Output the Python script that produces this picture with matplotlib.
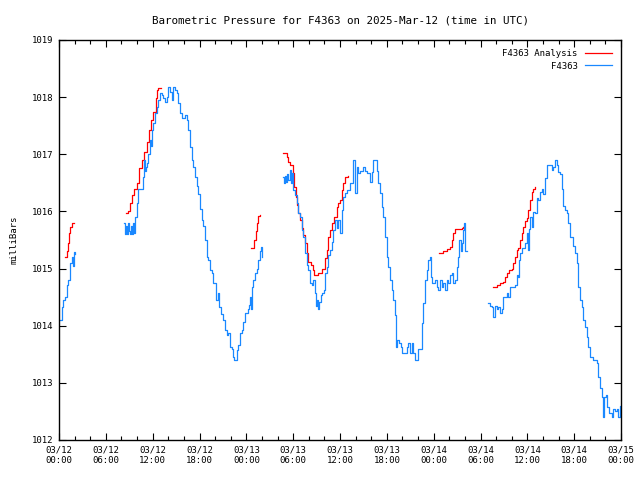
import numpy as np
import matplotlib
matplotlib.use('Agg')
import matplotlib.pyplot as plt
from matplotlib.ticker import MultipleLocator

# hours since 03/12 00:00 UTC, pressure in milliBars
# F4363 observations (gaps between segments)
obs_h1 = [0.13, 0.38, 0.51, 0.77, 1.02, 1.15, 1.41, 1.67, 1.79, 1.92, 2.05]
obs_p1 = [1014.1, 1014.33, 1014.45, 1014.5, 1014.71, 1014.8, 1015.1, 1015.2, 1015.05, 1015.29, 1015.25]

obs_h2 = [8.33, 8.46, 8.58, 8.71, 8.84, 8.97, 9.10, 9.22, 9.35, 9.48, 9.61, 9.74, 9.99, 10.12,
          10.38, 10.63, 10.76, 10.89, 11.02, 11.15, 11.27, 11.40, 11.66, 11.79, 11.91, 12.04,
          12.30, 12.55, 12.68, 12.94, 13.19, 13.32, 13.58, 13.84, 13.96, 14.22, 14.48, 14.60,
          14.86, 15.12, 15.24, 15.50, 15.76, 15.89, 16.14, 16.40, 16.53, 16.78, 17.04, 17.17,
          17.42, 17.68, 17.81, 18.06, 18.32, 18.45, 18.70, 18.96, 19.09, 19.34, 19.60, 19.73,
          20.11, 20.37, 20.50, 20.75, 21.01, 21.27, 21.52, 21.65, 21.91, 22.16, 22.29, 22.42,
          22.80, 22.93, 23.19, 23.44, 23.57, 23.83, 24.21, 24.34, 24.47, 24.60, 24.72, 24.85,
          25.11, 25.37, 25.50, 25.75, 25.88, 26.01]
obs_p2 = [1015.8, 1015.6, 1015.75, 1015.6, 1015.8, 1015.65, 1015.6, 1015.75, 1015.6, 1015.8,
          1015.62, 1015.9, 1016.15, 1016.4, 1016.4, 1016.4, 1016.6, 1016.9, 1016.7, 1016.78,
          1016.85, 1017.0, 1017.25, 1017.15, 1017.42, 1017.55, 1017.72, 1017.83, 1017.95,
          1018.07, 1018.04, 1017.98, 1017.92, 1018.0, 1018.18, 1018.09, 1017.95, 1018.18,
          1018.12, 1018.07, 1017.9, 1017.72, 1017.63, 1017.63, 1017.68, 1017.6, 1017.42,
          1017.13, 1016.9, 1016.78, 1016.6, 1016.45, 1016.3, 1016.05, 1015.85, 1015.75, 1015.5,
          1015.2, 1015.15, 1014.97, 1014.92, 1014.75, 1014.45, 1014.57, 1014.33, 1014.2, 1014.1,
          1013.92, 1013.84, 1013.87, 1013.63, 1013.6, 1013.45, 1013.4, 1013.57, 1013.66,
          1013.87, 1013.92, 1014.06, 1014.22, 1014.3, 1014.36, 1014.5, 1014.3, 1014.68, 1014.8,
          1014.92, 1015.0, 1015.15, 1015.3, 1015.38, 1015.2]

obs_h3 = [28.70, 28.82, 28.95, 29.08, 29.21, 29.34, 29.59, 29.72, 29.85, 29.98, 30.23, 30.49,
          30.62, 30.87, 31.13, 31.26, 31.51, 31.77, 31.90, 32.16, 32.41, 32.54, 32.80, 32.92,
          33.05, 33.18, 33.31, 33.56, 33.69, 33.95, 34.08, 34.33, 34.46, 34.72, 34.97, 35.10,
          35.36, 35.61, 35.74, 36.00, 36.25, 36.38, 36.64, 36.90, 37.28, 37.67, 37.92, 38.18,
          38.31, 38.56, 38.95, 39.20, 39.46, 39.84, 40.10, 40.22, 40.48, 40.74, 40.87, 41.12,
          41.38, 41.51, 41.76, 42.02, 42.15, 42.40, 42.66, 42.79, 43.05, 43.17, 43.30, 43.56,
          43.81, 43.94, 44.20, 44.58, 44.71, 44.97, 45.22, 45.35, 45.61, 45.86, 45.99, 46.25,
          46.50, 46.63, 46.89, 47.14, 47.27, 47.53, 47.66, 47.78, 48.04, 48.17, 48.42, 48.55,
          48.81, 49.06, 49.19, 49.45, 49.71, 49.83, 50.09, 50.35, 50.47, 50.73, 50.99, 51.11,
          51.24, 51.50, 51.63, 51.76, 51.88, 52.01, 52.27]
obs_p3 = [1016.6, 1016.5, 1016.62, 1016.52, 1016.65, 1016.55, 1016.72, 1016.5, 1016.67,
          1016.38, 1016.29, 1016.15, 1015.97, 1015.9, 1015.67, 1015.55, 1015.27, 1015.06,
          1014.97, 1014.75, 1014.71, 1014.8, 1014.57, 1014.35, 1014.45, 1014.3, 1014.42,
          1014.54, 1014.57, 1014.62, 1014.92, 1015.03, 1015.24, 1015.33, 1015.46, 1015.67,
          1015.85, 1015.71, 1015.85, 1015.62, 1016.02, 1016.25, 1016.32, 1016.38, 1016.5,
          1016.9, 1016.32, 1016.78, 1016.67, 1016.7, 1016.78, 1016.7, 1016.67, 1016.51,
          1016.69, 1016.9, 1016.9, 1016.7, 1016.5, 1016.32, 1016.08, 1015.9, 1015.55, 1015.2,
          1015.03, 1014.8, 1014.62, 1014.45, 1014.19, 1013.63, 1013.75, 1013.7, 1013.63,
          1013.52, 1013.52, 1013.63, 1013.7, 1013.52, 1013.7, 1013.52, 1013.4, 1013.4, 1013.6,
          1013.6, 1014.05, 1014.4, 1014.8, 1014.97, 1015.15, 1015.2, 1014.85, 1014.75, 1014.75,
          1014.8, 1014.68, 1014.62, 1014.8, 1014.68, 1014.75, 1014.62, 1014.8, 1014.75, 1014.89,
          1014.92, 1014.75, 1014.8, 1015.03, 1015.2, 1015.5, 1015.3, 1015.45, 1015.67, 1015.8,
          1015.3, 1015.3]

obs_h4 = [54.96, 55.21, 55.47, 55.60, 55.85, 56.11, 56.24, 56.50, 56.75, 56.88, 57.39, 57.52,
          57.78, 58.42, 58.68, 58.80, 58.93, 59.06, 59.32, 59.44, 59.70, 59.95, 60.08, 60.21,
          60.34, 60.60, 60.72, 60.98, 61.24, 61.36, 61.62, 61.88, 62.00, 62.26, 62.52, 62.90,
          63.16, 63.29, 63.54, 63.80, 63.93, 64.18, 64.44, 64.57, 64.82, 65.08, 65.21, 65.47,
          65.72, 65.85, 66.11, 66.36, 66.49, 66.75, 67.01, 67.13, 67.39, 67.64, 67.77, 68.03,
          68.41, 68.92, 69.05, 69.31, 69.56, 69.69, 69.82, 70.07, 70.20, 70.46, 70.84, 70.97,
          71.23, 71.48, 71.61, 71.87, 72.0]
obs_p4 = [1014.4, 1014.35, 1014.33, 1014.15, 1014.35, 1014.3, 1014.33, 1014.22, 1014.3,
          1014.5, 1014.57, 1014.5, 1014.68, 1014.71, 1014.89, 1014.85, 1015.15, 1015.27,
          1015.36, 1015.36, 1015.45, 1015.62, 1015.33, 1015.7, 1015.9, 1015.73, 1015.99,
          1015.97, 1016.23, 1016.2, 1016.34, 1016.4, 1016.3, 1016.58, 1016.81, 1016.81,
          1016.72, 1016.78, 1016.9, 1016.81, 1016.69, 1016.65, 1016.4, 1016.1, 1016.02,
          1015.97, 1015.8, 1015.55, 1015.55, 1015.4, 1015.27, 1015.1, 1014.68, 1014.45,
          1014.33, 1014.1, 1013.98, 1013.8, 1013.63, 1013.45, 1013.4, 1013.35, 1013.1, 1012.91,
          1012.75, 1012.4, 1012.75, 1012.79, 1012.58, 1012.47, 1012.4, 1012.55, 1012.5,
          1012.55, 1012.4, 1012.6, 1012.5]

# F4363 Analysis
ana_h1 = [0.77, 0.90, 1.02, 1.15, 1.28, 1.41, 1.67, 1.92]
ana_p1 = [1015.2, 1015.2, 1015.3, 1015.45, 1015.62, 1015.73, 1015.8, 1015.8]

ana_h2 = [8.58, 8.84, 9.10, 9.35, 9.61, 9.99, 10.25, 10.63, 10.89, 11.27, 11.53, 11.79, 12.04,
          12.43, 12.55, 12.68, 13.07]
ana_p2 = [1015.98, 1016.0, 1016.14, 1016.29, 1016.4, 1016.5, 1016.76, 1016.9, 1017.04,
          1017.21, 1017.42, 1017.6, 1017.74, 1017.98, 1018.12, 1018.16, 1018.16]

ana_h3 = [24.60, 24.85, 24.98, 25.24, 25.37, 25.50, 25.75]
ana_p3 = [1015.36, 1015.36, 1015.5, 1015.65, 1015.8, 1015.92, 1015.94]

ana_h4 = [28.70, 29.21, 29.34, 29.59, 29.85, 29.98, 30.10, 30.36, 30.49, 30.62, 30.87, 31.13,
          31.26, 31.51, 31.77, 31.90, 32.28, 32.54, 32.67, 33.18, 33.69, 33.82, 34.08, 34.33,
          34.46, 34.72, 34.97, 35.23, 35.61, 35.74, 36.00, 36.25, 36.38, 36.64, 37.02]
ana_p4 = [1017.02, 1016.95, 1016.87, 1016.81, 1016.81, 1016.67, 1016.43, 1016.25, 1016.11,
          1015.97, 1015.85, 1015.71, 1015.59, 1015.45, 1015.27, 1015.12, 1015.06, 1014.97,
          1014.89, 1014.92, 1015.0, 1015.0, 1015.18, 1015.32, 1015.55, 1015.67, 1015.8, 1015.9,
          1016.08, 1016.15, 1016.2, 1016.38, 1016.5, 1016.6, 1016.62]

ana_h5 = [48.68, 49.19, 49.71, 50.09, 50.35, 50.47, 50.73, 51.11, 51.63, 51.76]
ana_p5 = [1015.27, 1015.3, 1015.34, 1015.38, 1015.5, 1015.62, 1015.69, 1015.7, 1015.71, 1015.72]

ana_h6 = [55.60, 56.11, 56.50, 56.88, 57.14, 57.39, 57.65, 58.03, 58.16, 58.42, 58.68, 58.80,
          59.06, 59.32, 59.44, 59.70, 59.95, 60.08, 60.34, 60.60, 60.72, 60.98]
ana_p6 = [1014.68, 1014.71, 1014.75, 1014.76, 1014.85, 1014.92, 1014.97, 1015.0, 1015.1,
          1015.2, 1015.33, 1015.36, 1015.5, 1015.62, 1015.73, 1015.84, 1015.88, 1016.02,
          1016.2, 1016.34, 1016.4, 1016.43]

xtick_labels = ['03/12\n00:00', '03/12\n06:00', '03/12\n12:00', '03/12\n18:00',
                '03/13\n00:00', '03/13\n06:00', '03/13\n12:00', '03/13\n18:00',
                '03/14\n00:00', '03/14\n06:00', '03/14\n12:00', '03/14\n18:00',
                '03/15\n00:00']


def join(segs):
    '''concatenate segments with NaN breaks so gaps are not drawn'''
    xs, ys = [], []
    for h, p in segs:
        xs += list(h) + [np.nan]
        ys += list(p) + [np.nan]
    return np.array(xs), np.array(ys)


obs_x, obs_y = join([(obs_h1, obs_p1), (obs_h2, obs_p2), (obs_h3, obs_p3), (obs_h4, obs_p4)])
ana_x, ana_y = join([(ana_h1, ana_p1), (ana_h2, ana_p2), (ana_h3, ana_p3),
                     (ana_h4, ana_p4), (ana_h5, ana_p5), (ana_h6, ana_p6)])

plt.rcParams['font.family'] = ['DejaVu Sans Mono']
plt.rcParams['font.size'] = 6.5

fig = plt.figure(figsize=(6.4, 4.8), dpi=100)
ax = fig.add_axes([59/640, 40/480, 562/640, 400/480])

ax.plot(ana_x, ana_y, color='#ff0000', lw=0.9, drawstyle='steps-post', label='F4363 Analysis')
ax.plot(obs_x, obs_y, color='#1a88ff', lw=0.9, drawstyle='steps-post', label='F4363')

ax.set_xlim(0, 72)
ax.set_ylim(1012, 1019)
ax.set_xticks(np.arange(0, 73, 6))
ax.set_xticklabels(xtick_labels)
ax.xaxis.set_minor_locator(MultipleLocator(2))
ax.yaxis.set_major_locator(MultipleLocator(1))
ax.tick_params(which='both', direction='in', top=True, right=True, colors='black')
ax.tick_params(which='major', length=5, width=0.8, pad=4)
ax.tick_params(which='minor', length=3, width=0.8)
for s in ax.spines.values():
    s.set_linewidth(1.0)

ax.set_title('Barometric Pressure for F4363 on 2025-Mar-12 (time in UTC)', pad=12)
ax.set_ylabel('milliBars', labelpad=10)

ax.legend(loc='upper right', frameon=False, markerfirst=False, handlelength=3,
          borderaxespad=0.6, labelspacing=0.4, handletextpad=0.8)

fig.savefig('out.png', dpi=100)
